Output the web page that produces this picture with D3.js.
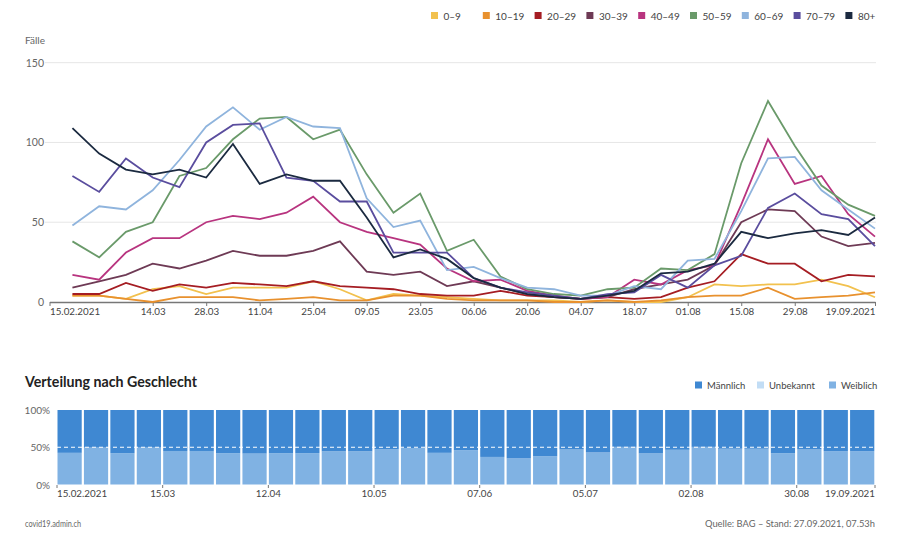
<!DOCTYPE html>
<html><head><meta charset="utf-8">
<script src="https://cdn.jsdelivr.net/npm/d3@7"></script>
<style>
body{margin:0;background:#fff;}
svg{display:block;font-family:Lato,"Noto Sans",sans-serif;}
</style></head>
<body><svg id="c" width="900" height="555"></svg>
<script>
// ---- data ----
const ageGroups = ["0–9","10–19","20–29","30–39","40–49","50–59","60–69","70–79","80+"];
const ageColors = ["#f2c14e","#e8912e","#a51d23","#6e3a55","#b8347f","#6a9a6a","#8fb4dd","#5a4d9e","#1b2a40"];
const weekDates = ["2021-02-21","2021-02-28","2021-03-07","2021-03-14","2021-03-21","2021-03-28","2021-04-04","2021-04-11","2021-04-18","2021-04-25","2021-05-02","2021-05-09","2021-05-16","2021-05-23","2021-05-30","2021-06-06","2021-06-13","2021-06-20","2021-06-27","2021-07-04","2021-07-11","2021-07-18","2021-07-25","2021-08-01","2021-08-08","2021-08-15","2021-08-22","2021-08-29","2021-09-05","2021-09-12","2021-09-19"];
const v0_9   = [4,4,2,8,10,5,9,9,9,13,8,1,5,4,3,2,1,1,1,0,1,0,0,3,11,10,11,11,14,10,3];
const v10_19 = [4,4,2,0,3,3,3,1,2,3,1,1,4,4,2,1,1,1,0,0,1,0,1,3,4,4,9,2,3,4,6];
const v20_29 = [5,5,12,7,11,9,12,11,10,13,10,9,8,5,4,4,7,4,3,2,3,2,3,9,13,30,24,24,13,17,16];
const v30_39 = [9,13,17,24,21,26,32,29,29,32,38,19,17,19,10,13,9,5,3,2,3,8,11,14,23,50,58,57,41,35,37];
const v40_49 = [17,14,31,40,40,50,54,52,56,66,50,44,40,36,21,13,14,7,4,2,3,14,11,20,23,61,102,74,79,55,41];
const v50_59 = [38,28,44,50,79,84,102,115,116,102,108,80,56,68,32,39,16,8,5,4,8,9,21,20,30,87,126,98,73,61,54];
const v60_69 = [48,60,58,70,89,110,122,108,116,110,109,65,47,51,20,22,15,9,8,4,4,10,8,26,27,57,90,91,70,58,46];
const v70_79 = [79,69,90,78,72,100,111,112,78,76,63,63,31,31,31,15,9,6,4,2,5,6,17,9,23,29,59,68,55,52,35];
const v80    = [109,93,83,80,83,78,99,74,80,76,76,53,28,33,27,15,9,5,3,2,4,7,18,19,24,44,40,43,45,42,53];
const ageSeries = [v0_9,v10_19,v20_29,v30_39,v40_49,v50_59,v60_69,v70_79,v80];
const topTicks = ["2021-02-15","2021-03-14","2021-03-28","2021-04-11","2021-04-25","2021-05-09","2021-05-23","2021-06-06","2021-06-20","2021-07-04","2021-07-18","2021-08-01","2021-08-15","2021-08-29","2021-09-19"];
const yTicks = [0,50,100,150];

const sexWeeks = ["2021-02-15","2021-02-22","2021-03-01","2021-03-08","2021-03-15","2021-03-22","2021-03-29","2021-04-05","2021-04-12","2021-04-19","2021-04-26","2021-05-03","2021-05-10","2021-05-17","2021-05-24","2021-05-31","2021-06-07","2021-06-14","2021-06-21","2021-06-28","2021-07-05","2021-07-12","2021-07-19","2021-07-26","2021-08-02","2021-08-09","2021-08-16","2021-08-23","2021-08-30","2021-09-06","2021-09-13"];
const weiblich  = [42.5,49.5,42,49.5,45,45,42,41.5,42,42,44.5,44.5,47.5,49,42.5,46,37,35,38,47,43,50.5,41.7,46.6,50.5,48,48,42,47,44.8,44.8];
const unbekannt = [0,0,0,0,0,0,0,0,0,0,0,0,0,0,0,0,0,0,0,0,0,0,0,0,0,0,0,0,0,0,0];
const maennlich = [57.5,50.5,58,50.5,55,55,58,58.5,58,58,55.5,55.5,52.5,51,57.5,54,63,65,62,53,57,49.5,58.3,53.4,49.5,52,52,58,53,55.2,55.2];
const sexKeys = ["Männlich","Unbekannt","Weiblich"];
const sexColors = ["#3f88d2","#c2ddf5","#80b2e3"];
const bottomTicks = ["2021-02-15","2021-03-15","2021-04-12","2021-05-10","2021-06-07","2021-07-05","2021-08-02","2021-08-30","2021-09-19"];
const pctTicks = [0,50,100];

// ---- drawing ----
const svg = d3.select("#c");
const parse = d3.utcParse("%Y-%m-%d");
const fmtShort = d3.utcFormat("%d.%m");
const fmtLong = d3.utcFormat("%d.%m.%Y");
const grey = "#666";

// legend top
const lg = svg.append("g");
ageGroups.forEach((g,i)=>{
  const lx = 431 + i*51.8;
  lg.append("rect").attr("x",lx).attr("y",12).attr("width",7).attr("height",7).attr("fill",ageColors[i]);
  lg.append("text").attr("x",lx+12.5).attr("y",19.5).attr("font-size",10).attr("fill","#444").text(g);
});

svg.append("text").attr("x",25).attr("y",44).attr("font-size",10).attr("fill",grey).text("Fälle");

const x = d3.scaleUtc().domain([parse("2021-02-15"),parse("2021-09-19")]).range([49.5,875]);
const y = d3.scaleLinear().domain([0,150]).range([302,62.7]);

// grid
svg.append("g").selectAll("line").data(yTicks.filter(d=>d>0)).join("line")
  .attr("x1",45).attr("x2",876).attr("y1",d=>y(d)).attr("y2",d=>y(d))
  .attr("stroke","#e6e6e6").attr("stroke-width",1);
svg.append("g").selectAll("text").data(yTicks).join("text")
  .attr("x",44).attr("y",d=>y(d)+4).attr("text-anchor","end")
  .attr("font-size",10.5).attr("fill",grey).text(d=>d);

// x axis
const xa = svg.append("g").attr("transform","translate(0,302)")
  .call(d3.axisBottom(x).tickValues(topTicks.map(parse)).tickSize(4).tickSizeOuter(0)
    .tickFormat((d,i)=> (i===0||i===topTicks.length-1)? fmtLong(d) : fmtShort(d)));
xa.select(".domain").attr("stroke","#777").attr("stroke-width",1.5);
xa.selectAll(".tick line").attr("stroke","#777");
xa.selectAll(".tick text").attr("font-size",9.8).attr("fill","#444").attr("font-family","Lato,sans-serif").attr("dy","0.65em");
xa.selectAll(".tick text").filter((d,i)=>i===0).attr("text-anchor","start");
xa.selectAll(".tick text").filter((d,i)=>i===topTicks.length-1).attr("text-anchor","end");

// lines
const line = d3.line().x((d,i)=>x(parse(weekDates[i]))).y(d=>y(d));
svg.append("g").selectAll("path").data(ageSeries).join("path")
  .attr("d",line).attr("fill","none").attr("stroke",(d,i)=>ageColors[i])
  .attr("stroke-width",1.8).attr("stroke-linejoin","miter");

// ---- lower chart ----
svg.append("text").attr("x",25).attr("y",387).attr("font-size",14.2).attr("font-weight","bold").attr("fill","#222").text("Verteilung nach Geschlecht");
const slx = [695,757,829];
sexKeys.forEach((k,i)=>{
  svg.append("rect").attr("x",slx[i]).attr("y",381.5).attr("width",7).attr("height",7).attr("fill",sexColors[i]);
  svg.append("text").attr("x",slx[i]+12).attr("y",389).attr("font-size",9.5).attr("fill","#444").text(k);
});

const xb = d3.scaleUtc().domain([parse("2021-02-15"),parse("2021-09-20")]).range([56.5,875.5]);
const yb = d3.scaleLinear().domain([0,100]).range([484.5,410]);
const stackData = sexWeeks.map((w,i)=>({date:parse(w),"Weiblich":weiblich[i],"Unbekannt":unbekannt[i],"Männlich":maennlich[i]}));
const stack = d3.stack().keys(["Weiblich","Unbekannt","Männlich"])(stackData);
const colorOf = {"Männlich":sexColors[0],"Unbekannt":sexColors[1],"Weiblich":sexColors[2]};
const day7 = 7*24*3600*1000;
svg.append("g").selectAll("g").data(stack).join("g").attr("fill",s=>colorOf[s.key])
  .selectAll("rect").data(s=>s).join("rect")
  .attr("x",d=>xb(d.data.date)+1)
  .attr("width",d=>xb(new Date(+d.data.date+day7))-xb(d.data.date)-2.2)
  .attr("y",d=>yb(d[1])).attr("height",d=>Math.max(0,yb(d[0])-yb(d[1])));

svg.append("line").attr("x1",57).attr("x2",875).attr("y1",yb(50)).attr("y2",yb(50))
  .attr("stroke","#fff").attr("stroke-width",1).attr("stroke-dasharray","4,3");

svg.append("g").selectAll("text").data(pctTicks).join("text")
  .attr("x",50).attr("y",d=>yb(d)+4).attr("text-anchor","end")
  .attr("font-size",10).attr("fill",grey).text(d=>d+"%");

const xba = svg.append("g").attr("transform","translate(0,485)")
  .call(d3.axisBottom(xb).tickValues(bottomTicks.map(parse)).tickSize(3).tickSizeOuter(0)
    .tickFormat((d,i)=> (i===0||i===bottomTicks.length-1)? fmtLong(d) : fmtShort(d)));
xba.select(".domain").remove();
xba.selectAll(".tick line").attr("stroke","#777");
xba.selectAll(".tick text").attr("font-size",9.8).attr("fill","#444").attr("font-family","Lato,sans-serif").attr("dy","0.6em");
xba.selectAll(".tick").filter((d,i)=>i===bottomTicks.length-1).attr("transform","translate(875,0)");
xba.selectAll(".tick text").filter((d,i)=>i===0).attr("text-anchor","start");
xba.selectAll(".tick text").filter((d,i)=>i===bottomTicks.length-1).attr("text-anchor","end");

// footer
svg.append("text").attr("x",25).attr("y",527).attr("font-size",9.5).attr("fill",grey)
  .attr("textLength",56).attr("lengthAdjust","spacingAndGlyphs").text("covid19.admin.ch");
svg.append("text").attr("x",705).attr("y",527).attr("font-size",9.5).attr("fill",grey)
  .attr("textLength",170).attr("lengthAdjust","spacingAndGlyphs").text("Quelle: BAG – Stand: 27.09.2021, 07.53h");
</script></body></html>
